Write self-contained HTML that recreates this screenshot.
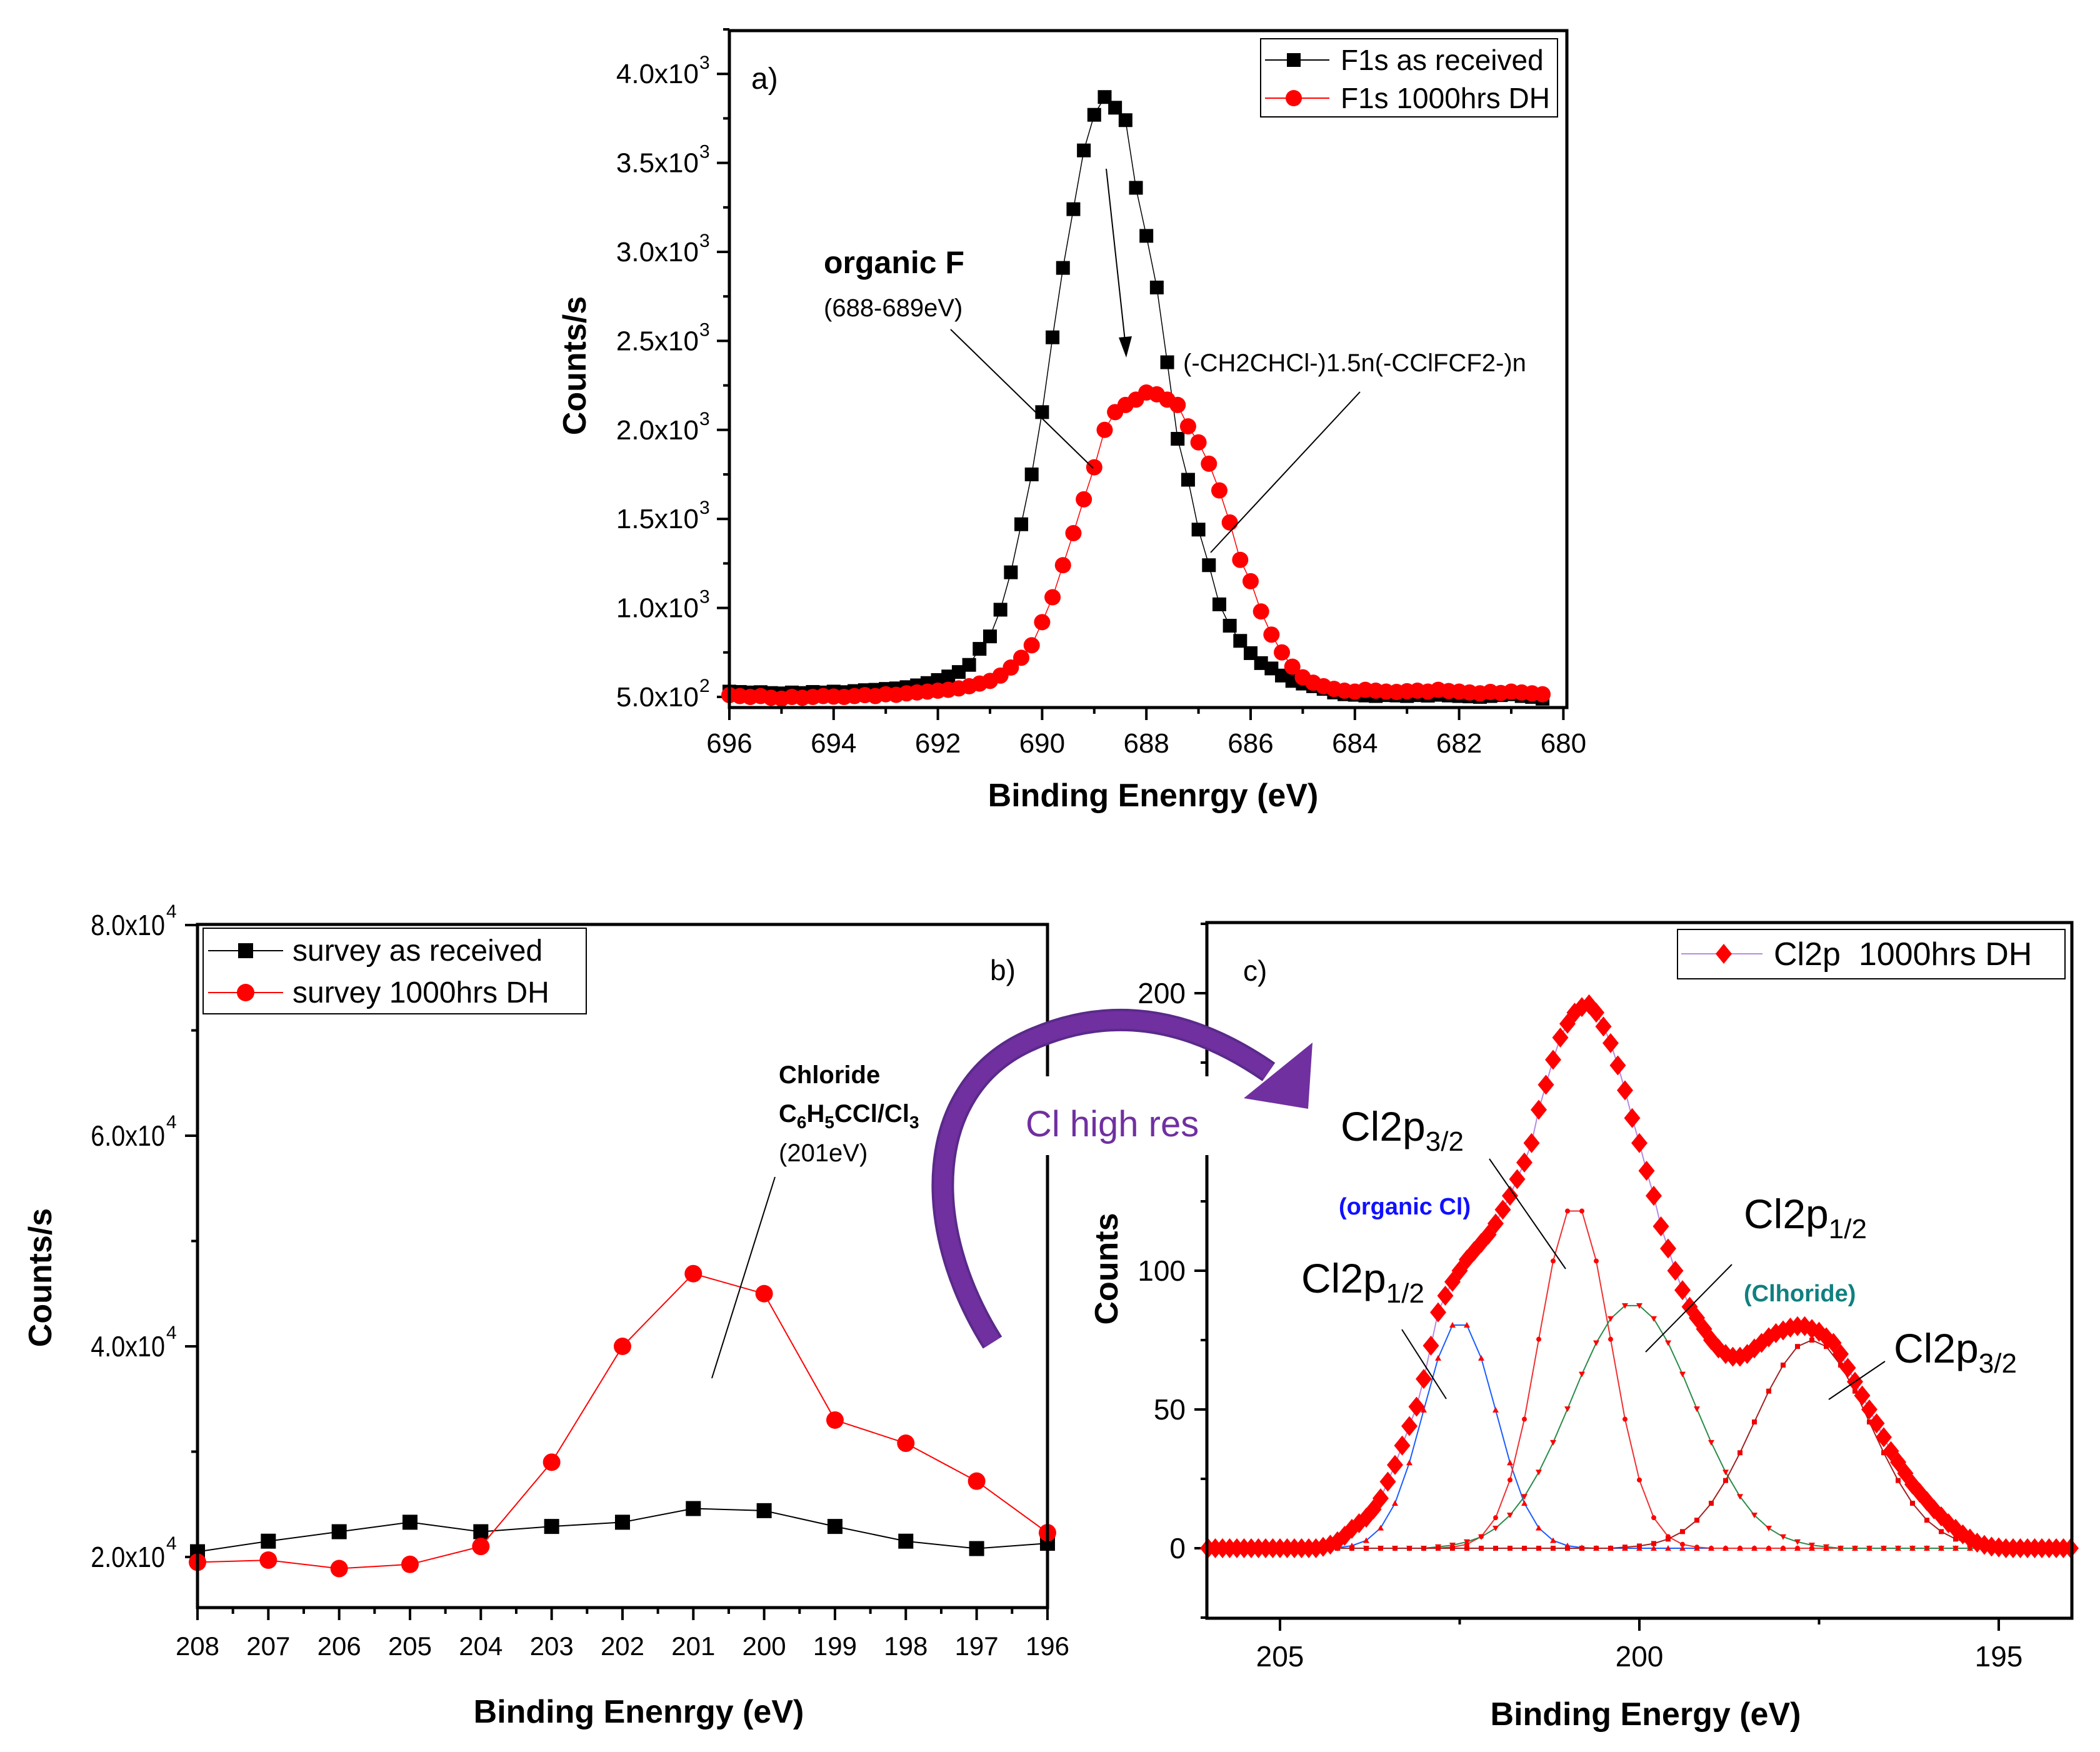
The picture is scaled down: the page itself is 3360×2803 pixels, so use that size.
<!DOCTYPE html>
<html><head><meta charset="utf-8"><style>
html,body{margin:0;padding:0;background:#fff}
svg{display:block;font-family:"Liberation Sans",sans-serif}
</style></head><body>
<svg id="fig" width="3360" height="2803" viewBox="0 0 3360 2803" xmlns="http://www.w3.org/2000/svg"></svg>
<script>
// ---------- Panel a data (F1s) ----------
const aStart = 696.0, aStep = 0.2;
const aReceived = [530,528,525,527,522,520,525,522,528,525,530,527,533,538,540,545,548,555,565,578,595,615,640,680,770,840,990,1200,1470,1750,2100,2520,2910,3240,3570,3770,3870,3810,3740,3360,3090,2800,2380,1950,1720,1440,1240,1020,900,815,746,690,660,620,590,575,560,545,525,515,512,508,505,510,508,505,510,507,512,508,505,503,500,505,510,515,505,500,490];
const aDH = [510,505,500,505,495,490,500,495,500,505,502,500,505,510,505,515,512,520,525,530,535,540,548,560,575,590,620,665,720,790,920,1060,1240,1420,1610,1790,2000,2100,2140,2170,2210,2200,2170,2140,2020,1930,1810,1660,1480,1270,1150,980,850,750,670,610,580,560,545,535,530,540,535,530,528,532,535,530,540,533,530,525,520,528,522,530,525,520,515];
const aXTicks = [696,694,692,690,688,686,684,682,680];
const aYTicks = [500,1000,1500,2000,2500,3000,3500,4000];
const aYLabels = ["5.0x10","1.0x10","1.5x10","2.0x10","2.5x10","3.0x10","3.5x10","4.0x10"];
const aYExp = ["2","3","3","3","3","3","3","3"];
// ---------- Panel b data (survey) ----------
const bEnergy = [208,207,206,205,204,203,202,201,200,199,198,197,196];
const bReceived = [20500,21500,22400,23300,22400,22900,23300,24600,24400,22900,21500,20800,21300];
const bDH = [19500,19700,18900,19300,21000,29000,40000,46900,45000,33000,30800,27200,22300];
const bXTicks = [208,207,206,205,204,203,202,201,200,199,198,197,196];
const bYTicks = [20000,40000,60000,80000];
const bYLabels = ["2.0x10","4.0x10","6.0x10","8.0x10"];
// ---------- Panel c data (Cl2p) ----------
const cEnvStart = 206.0, cEnvStep = 0.1;
const cEnvelope = [0,0,0,0,0,0,0,0,0,0,0,0,0,0,0,0,
0.5,1.3,2.5,4.5,7,9,11,14,18,24,30,37,44,51,61,73,85,91,96,100,104,107,110,113,117,122,127,133,139,146,158,167,176,184,189,193,195,196,193,188,182,174,165,155,146,136,127,116,108,100,93,87,83,79,75,72,70,69,69,70,72,74,76,77.5,78.5,79.5,80,80,79,78,76,74,70,65,60,55,50,45,40,35,31,27,23,20,17,14,11.5,9,7,5,3.5,2,1.2,0.6,0.3,
0,0,0,0,0,0,0,0,0,0];
const cCompStart = 204.4, cCompStep = 0.2;
const cOrganic12 = [0,0.2,0.9,2.8,7.3,16.2,30.8,49.8,68.5,80.4,80.4,68.5,49.8,30.8,16.2,7.3,2.8,0.9,0.2,0,0,0,0,0,0,0,0,0,0,0,0,0,0,0,0,0,0,0,0,0,0,0,0,0,0,0,0,0];
const cOrganic32 = [0,0,0,0,0,0,0,0,0,0.4,1.4,4.2,11,24.6,46.5,75.3,103.5,121.5,121.5,103.5,75.3,46.5,24.6,11,4.2,1.4,0.4,0,0,0,0,0,0,0,0,0,0,0,0,0,0,0,0,0,0,0,0,0];
const cChloride12 = [0,0,0,0,0,0,0,0,0.5,1.1,2.3,4.1,7.2,11.9,18.6,27.4,38.1,50.2,62.7,74,82.7,87.4,87.4,82.7,74,62.7,50.2,38.1,27.4,18.6,11.9,7.2,4.1,2.3,1.1,0.5,0,0,0,0,0,0,0,0,0,0,0,0];
const cChloride32 = [0,0,0,0,0,0,0,0,0,0,0,0,0,0,0,0,0,0,0,0,0,0.4,0.8,1.7,3.3,6,10.1,16.2,24.4,34.4,45.5,56.6,66,72.7,75,72.7,66,56.6,45.5,34.4,24.4,16.2,10.1,6,3.3,1.7,0.8,0.4];
const cXTicks = [205,200,195];
const cXMinor = [202.5,197.5];
const cYTicks = [0,50,100,150,200];
const cYLabels = ["0","50","100","","200"];
const cYMinor = [-25,25,75,125,175,225];

function xa(v){return 1167+(696-v)*83.4;}
function ya(v){return 1115-(v-500)/500*142.4;}
function xb(v){return 316+(208-v)*113.33;}
function yb(v){return 2491-(v-20000)/20000*337;}
function xc(v){return 2048+(205-v)*115;}
function yc(v){return 2477-v*4.44;}

const NS="http://www.w3.org/2000/svg";
const svg=document.getElementById('fig');
function mk(tag,attrs,parent){const e=document.createElementNS(NS,tag);for(const k in attrs)e.setAttribute(k,attrs[k]);(parent||svg).appendChild(e);return e;}
function txt(x,y,s,attrs,parent){const t=mk('text',Object.assign({x:x,y:y},attrs),parent);t.textContent=s;return t;}
function line(x1,y1,x2,y2,st,w,parent){return mk('line',{x1:x1,y1:y1,x2:x2,y2:y2,stroke:st,'stroke-width':w},parent);}

// ================= PANEL A =================
const pa=mk('g',{});


aYTicks.forEach((v,i)=>{
  const t=line(1147,ya(v),1167,ya(v),'#000',4,pa);
  
  
  const m=line(1157,ya(v+250),1167,ya(v+250),'#000',4,pa);
  
  
  const l=txt(1118,ya(v)+15,aYLabels[i],{'font-size':44,'text-anchor':'end'},pa);
  
  
  const s=txt(1119,ya(v)-8,aYExp[i],{'font-size':30,'text-anchor':'start'},pa);
  
  
});
aXTicks.forEach((v)=>{
  const t=line(xa(v),1132,xa(v),1152,'#000',4,pa);
  
  
  if(v>680){const m=line(xa(v-1),1132,xa(v-1),1142,'#000',4,pa);
  
  }
  const l=txt(xa(v),1204,String(v),{'font-size':44,'text-anchor':'middle'},pa);
  
  
});
function series(arr,fx,fy,start,step,color,w,parent,name){
  let d='';arr.forEach((v,i)=>{d+=(i?'L':'M')+fx(start-i*step).toFixed(1)+' '+fy(v).toFixed(1);});
  const p=mk('path',{d:d,fill:'none',stroke:color,'stroke-width':w},parent);
  
  
}
series(aReceived,xa,ya,aStart,aStep,'#000',1.5,pa,'a-received-line');
aReceived.forEach((v,i)=>{
  const r=mk('rect',{x:xa(aStart-i*aStep)-11,y:ya(v)-11,width:22,height:22,fill:'#000'},pa);
  
  
});
series(aDH,xa,ya,aStart,aStep,'#f00',1.5,pa,'a-dh-line');
aDH.forEach((v,i)=>{
  const c=mk('circle',{cx:xa(aStart-i*aStep),cy:ya(v),r:13,fill:'#f00'},pa);
  
  
});
const fa=mk('rect',{x:1167,y:49,width:1340,height:1083,fill:'none',stroke:'#000','stroke-width':5},pa);


const la=mk('g',{},pa);


mk('rect',{x:2017,y:62,width:475,height:125,fill:'#fff',stroke:'#000','stroke-width':2},la);
line(2024,96,2127,96,'#000',2,la);
mk('rect',{x:2059,y:85,width:22,height:22,fill:'#000'},la);
line(2024,157,2127,157,'#f00',2,la);
mk('circle',{cx:2070,cy:157,r:13,fill:'#f00'},la);
const l1=txt(2145,112,'F1s as received',{'font-size':46},la);


const l2=txt(2145,173,'F1s 1000hrs DH',{'font-size':46},la);


const t1=txt(1202,142,'a)',{'font-size':48},pa);


const t2=txt(1318,437,'organic F',{'font-size':50,'font-weight':'bold'},pa);


const t3=txt(1318,506,'(688-689eV)',{'font-size':40},pa);


line(1521,527,1749,749,'#000',2,pa);
const t4=txt(1893,594,'(-CH2CHCl-)1.5n(-CClFCF2-)n',{'font-size':40},pa);


line(2176,627,1937,884,'#000',2,pa);
line(1770,270,1800,545,'#000',2,pa);
const ah=mk('polygon',{points:'1802,572 1790,540 1811,538',fill:'#000'},pa);


const at=txt(1845,1290,'Binding Enenrgy (eV)',{'font-size':52,'font-weight':'bold','text-anchor':'middle'},pa);


const ay=txt(0,0,'Counts/s',{'font-size':52,'font-weight':'bold','text-anchor':'middle',transform:'translate(937,585) rotate(-90)'},pa);



// ================= PANEL B =================
const pb=mk('g',{});


bYTicks.forEach((v,i)=>{
  const t=line(296,yb(v),316,yb(v),'#000',4,pb);
  
  
  if(v<80000){const m=line(306,yb(v+10000),316,yb(v+10000),'#000',4,pb);
  
  }
  const l=txt(264/0.86,yb(v)+16,bYLabels[i],{'font-size':46,'text-anchor':'end',transform:'scale(0.86,1)'},pb);
  
  
  const s=txt(266,yb(v)-12,'4',{'font-size':30},pb);
  
  
});
bXTicks.forEach((v)=>{
  const t=line(xb(v),2572,xb(v),2592,'#000',4,pb);
  
  
  if(v>196){const m=line(xb(v-0.5),2572,xb(v-0.5),2582,'#000',4,pb);
  
  }
  const l=txt(xb(v),2648,String(v),{'font-size':42,'text-anchor':'middle'},pb);
  
  
});
function seriesXY(xs,ys,fx,fy,color,w,parent,name){
  let d='';xs.forEach((x,i)=>{d+=(i?'L':'M')+fx(x).toFixed(1)+' '+fy(ys[i]).toFixed(1);});
  const p=mk('path',{d:d,fill:'none',stroke:color,'stroke-width':w},parent);
  
  
}
seriesXY(bEnergy,bReceived,xb,yb,'#000',2,pb,'b-received-line');
bEnergy.forEach((x,i)=>{
  const r=mk('rect',{x:xb(x)-12,y:yb(bReceived[i])-12,width:24,height:24,fill:'#000'},pb);
  
  
});
seriesXY(bEnergy,bDH,xb,yb,'#f00',2,pb,'b-dh-line');
bEnergy.forEach((x,i)=>{
  const c=mk('circle',{cx:xb(x),cy:yb(bDH[i]),r:14,fill:'#f00'},pb);
  
  
});
const fb=mk('rect',{x:316,y:1479,width:1360,height:1093,fill:'none',stroke:'#000','stroke-width':5},pb);


const lb=mk('g',{},pb);


mk('rect',{x:325,y:1485,width:613,height:137,fill:'#fff',stroke:'#000','stroke-width':2},lb);
line(333,1521,453,1521,'#000',2,lb);
mk('rect',{x:381,y:1509,width:24,height:24,fill:'#000'},lb);
line(333,1588,453,1588,'#f00',2,lb);
mk('circle',{cx:393,cy:1588,r:14,fill:'#f00'},lb);
const bl1=txt(468,1537,'survey as received',{'font-size':48},lb);


const bl2=txt(468,1604,'survey 1000hrs DH',{'font-size':48},lb);


const bp=txt(1584,1568,'b)',{'font-size':46},pb);


const ch=mk('g',{},pb);


txt(1246,1733,'Chloride',{'font-size':40,'font-weight':'bold'},ch);
const f2=txt(1246,1795,'C',{'font-size':40,'font-weight':'bold'},ch);
[['6',1],['H',0],['5',1],['CCl/Cl',0],['3',1]].forEach(p=>{const s=mk('tspan',p[1]?{'font-size':28,dy:10}:{'font-size':40,dy:-10},f2);s.textContent=p[0];});
txt(1246,1858,'(201eV)',{'font-size':40},ch);
line(1240,1883,1139,2205,'#000',2,ch);
const bt=txt(1022,2756,'Binding Enenrgy (eV)',{'font-size':52,'font-weight':'bold','text-anchor':'middle'},pb);


const byt=txt(0,0,'Counts/s',{'font-size':52,'font-weight':'bold','text-anchor':'middle',transform:'translate(82,2044) rotate(-90)'},pb);



// ================= PANEL C =================
const pc=mk('g',{});


cYTicks.forEach((v,i)=>{
  const t=line(1911,yc(v),1931,yc(v),'#000',4,pc);
  
  
  const l=txt(1897,yc(v)+16,cYLabels[i],{'font-size':46,'text-anchor':'end'},pc);
  
  
});
cYMinor.forEach(v=>{
  const m=line(1921,yc(v),1931,yc(v),'#000',4,pc);
  
  
});
cXTicks.forEach(v=>{
  const t=line(xc(v),2589,xc(v),2609,'#000',4,pc);
  
  
  const l=txt(xc(v),2666,String(v),{'font-size':46,'text-anchor':'middle'},pc);
  
  
});
cXMinor.forEach(v=>{
  const m=line(xc(v),2589,xc(v),2599,'#000',4,pc);
  
  
});
line(1975,yc(0),3160,yc(0),'#999',1.5,pc);
const comps=[[cOrganic12,'#1a5cff','organic-cl2p12-component','tri'],[cOrganic32,'#f03030','organic-cl2p32-component','dot'],[cChloride12,'#2a8a4a','chloride-cl2p12-component','tridown'],[cChloride32,'#a02020','chloride-cl2p32-component','sq']];
comps.forEach(c=>{
  series(c[0],xc,yc,cCompStart,cCompStep,c[1],2,pc,c[2]+'-line');
  c[0].forEach((v,i)=>{
    const x=xc(cCompStart-i*cCompStep),y=yc(v);let m;
    if(c[3]==='dot')m=mk('circle',{cx:x,cy:y,r:4,fill:'#f00'},pc);
    else if(c[3]==='sq')m=mk('rect',{x:x-4,y:y-4,width:8,height:8,fill:'#e00'},pc);
    else if(c[3]==='tri')m=mk('polygon',{points:(x-5)+','+(y+4)+' '+(x+5)+','+(y+4)+' '+x+','+(y-5),fill:'#f00'},pc);
    else m=mk('polygon',{points:(x-5)+','+(y-4)+' '+(x+5)+','+(y-4)+' '+x+','+(y+5),fill:'#f00'},pc);
    
    
  });
});
series(cEnvelope,xc,yc,cEnvStart,cEnvStep,'#b58be0',2,pc,'c-envelope-line');
cEnvelope.forEach((v,i)=>{
  const x=xc(cEnvStart-i*cEnvStep),y=yc(v);
  const d=mk('polygon',{points:x+','+(y-16)+' '+(x+13)+','+y+' '+x+','+(y+16)+' '+(x-13)+','+y,fill:'#f00'},pc);
  
  
});
const fc=mk('rect',{x:1931,y:1476,width:1384,height:1113,fill:'none',stroke:'#000','stroke-width':5},pc);


const lc=mk('g',{},pc);


mk('rect',{x:2684,y:1487,width:620,height:79,fill:'#fff',stroke:'#000','stroke-width':2},lc);
line(2690,1526,2820,1526,'#b58be0',2,lc);
mk('polygon',{points:'2758,1510 2771,1526 2758,1542 2745,1526',fill:'#f00'},lc);
const cl=txt(2838,1544,'Cl2p  1000hrs DH',{'font-size':52},lc);
cl.setAttribute('xml:space','preserve');
cl.style.whiteSpace='pre';


const cp=txt(1989,1569,'c)',{'font-size':46},pc);


function clLabel(x,y,sub,name){
  const t=txt(x,y,'Cl2p',{'font-size':66},pc);
  const s=mk('tspan',{'font-size':44,dy:16},t);s.textContent=sub;
  
  
}
clLabel(2145,1825,'3/2','organic-cl2p32-label');
clLabel(2082,2068,'1/2','organic-cl2p12-label');
clLabel(2790,1965,'1/2','chloride-cl2p12-label');
clLabel(3030,2180,'3/2','chloride-cl2p32-label');
const oc=txt(2142,1943,'(organic Cl)',{'font-size':38,'font-weight':'bold',fill:'#1010ff'},pc);


const cc=txt(2790,2082,'(Clhoride)',{'font-size':38,'font-weight':'bold',fill:'#108080'},pc);


line(2383,1854,2505,2030,'#000',2,pc);
line(2243,2127,2314,2238,'#000',2,pc);
line(2771,2023,2633,2163,'#000',2,pc);
line(3016,2178,2926,2239,'#000',2,pc);
const ct=txt(2633,2760,'Binding Energy (eV)',{'font-size':52,'font-weight':'bold','text-anchor':'middle'},pc);


const cyt=txt(0,0,'Counts',{'font-size':52,'font-weight':'bold','text-anchor':'middle',transform:'translate(1788,2030) rotate(-90)'},pc);



// ================= Connector arrow =================
const ar=mk('g',{});


mk('rect',{x:1640,y:1722,width:320,height:126,fill:'#fff'},ar);
mk('path',{d:'M1588 2148 C1470 1960 1480 1745 1640 1668 C1770 1606 1900 1625 2030 1715',fill:'none',stroke:'#5a2a8a','stroke-width':36},ar);
mk('path',{d:'M1588 2148 C1470 1960 1480 1745 1640 1668 C1770 1606 1900 1625 2030 1715',fill:'none',stroke:'#7030a0','stroke-width':28},ar);
mk('polygon',{points:'1990,1757 2100,1668 2093,1774',fill:'#7030a0'},ar);
const hr=txt(1641,1818,'Cl high res',{'font-size':58,fill:'#7030a0'},ar);


</script>
</body></html>
